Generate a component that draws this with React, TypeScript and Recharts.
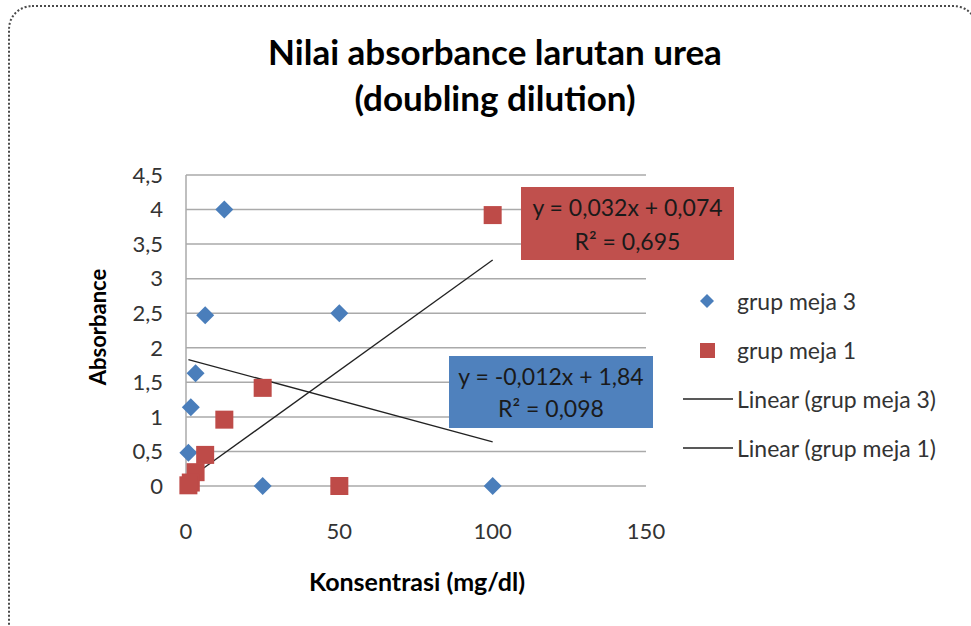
import React from 'react';
import { ScatterChart, Scatter, XAxis, YAxis, CartesianGrid } from 'recharts';

// konsentrasi (mg/dl) - doubling dilution
const konsentrasi = [100, 50, 25, 12.5, 6.25, 3.125, 1.5625, 0.78];
const absorbanceMeja3 = [0, 2.5, 0, 4, 2.47, 1.63, 1.14, 0.48];
const absorbanceMeja1 = [3.92, 0, 1.42, 0.96, 0.45, 0.2, 0.05, 0.01];

// garis trend (endpoint)
const trendMeja3 = [
  { x: 0.78, y: 1.83 },
  { x: 100, y: 0.64 },
];
const trendMeja1 = [
  { x: 0.78, y: 0.1 },
  { x: 100, y: 3.27 },
];

const xTicks = [0, 50, 100, 150];
const yTicks = [0, 0.5, 1, 1.5, 2, 2.5, 3, 3.5, 4, 4.5];

const dataMeja3 = konsentrasi.map((x, i) => ({ x, y: absorbanceMeja3[i] }));
const dataMeja1 = konsentrasi.map((x, i) => ({ x, y: absorbanceMeja1[i] }));

const BLUE = '#4A7EBB';
const RED = '#BE4B48';
const FONT = 'Lato, "Open Sans", sans-serif';

const Diamond = (props: any) => {
  const { cx, cy } = props;
  const r = 9;
  return <polygon points={`${cx},${cy - r} ${cx + r},${cy} ${cx},${cy + r} ${cx - r},${cy}`} fill={BLUE} />;
};

const Square = (props: any) => {
  const { cx, cy } = props;
  return <rect x={cx - 9} y={cy - 9} width={18} height={18} fill={RED} />;
};

const NoDot = () => <g />;

const fmt = (v: number) => String(v).replace('.', ',');

const App: React.FC = () => {
  return (
    <div style={{ position: 'absolute', left: 0, top: 0, width: 971, height: 626, overflow: 'hidden', background: '#fff', fontFamily: FONT }}>
      <div
        style={{
          position: 'absolute',
          left: 8,
          top: 5,
          width: 966,
          height: 640,
          border: '2px dotted #4a4a4a',
          borderRadius: 24,
        }}
      />
      <div style={{ position: 'absolute', left: 0, width: 990, top: 28, textAlign: 'center', fontWeight: 'bold', fontSize: 35, lineHeight: '46px', color: '#000' }}>
        Nilai absorbance larutan urea
        <br />
        (doubling dilution)
      </div>
      <ScatterChart
        width={971}
        height={626}
        margin={{ top: 175, right: 325, bottom: 100, left: 116 }}
        style={{ position: 'absolute', left: 0, top: 0 }}
      >
        <CartesianGrid horizontal vertical={false} stroke="#AAAAAA" strokeWidth={1.5} />
        <XAxis
          type="number"
          dataKey="x"
          domain={[0, 150]}
          ticks={xTicks}
          axisLine={false}
          tickLine={false}
          tickSize={6}
          tickMargin={31}
          height={40}
          tick={{ fill: '#333', fontSize: 22, fontFamily: FONT }}
        />
        <YAxis
          type="number"
          dataKey="y"
          domain={[0, 4.5]}
          ticks={yTicks}
          tickFormatter={fmt}
          axisLine={{ stroke: '#AAAAAA', strokeWidth: 1.5 }}
          tickLine={false}
          tickSize={6}
          tickMargin={17}
          width={70}
          tick={{ fill: '#333', fontSize: 22, fontFamily: FONT }}
        />
        <Scatter name="Linear (grup meja 3)" data={trendMeja3} line={{ stroke: '#222', strokeWidth: 1.3 }} shape={NoDot} isAnimationActive={false} />
        <Scatter name="Linear (grup meja 1)" data={trendMeja1} line={{ stroke: '#222', strokeWidth: 1.3 }} shape={NoDot} isAnimationActive={false} />
        <Scatter name="grup meja 3" data={dataMeja3} shape={Diamond} isAnimationActive={false} />
        <Scatter name="grup meja 1" data={dataMeja1} shape={Square} isAnimationActive={false} />
      </ScatterChart>

      {/* persamaan trend */}
      <div style={{ position: 'absolute', left: 521, top: 187, width: 213, height: 73, background: '#C0504D', color: '#1a1a1a', fontSize: 23, textAlign: 'center', lineHeight: '34px', paddingTop: 3, boxSizing: 'border-box' }}>
        y = 0,032x + 0,074
        <br />
        R² = 0,695
      </div>
      <div style={{ position: 'absolute', left: 449, top: 356, width: 204, height: 72, background: '#4F81BD', color: '#1a1a1a', fontSize: 23, textAlign: 'center', lineHeight: '32px', paddingTop: 4, boxSizing: 'border-box' }}>
        y = -0,012x + 1,84
        <br />
        R² = 0,098
      </div>

      {/* judul sumbu */}
      <div style={{ position: 'absolute', left: 0, width: 834, top: 566, textAlign: 'center', fontWeight: 'bold', fontSize: 25, color: '#000' }}>
        Konsentrasi (mg/dl)
      </div>
      <div style={{ position: 'absolute', left: 97, top: 327, transform: 'translate(-50%, -50%) rotate(-90deg)', whiteSpace: 'nowrap', fontWeight: 'bold', fontSize: 22, color: '#000' }}>
        Absorbance
      </div>

      {/* legenda */}
      <div style={{ position: 'absolute', left: 683, top: 276, fontSize: 23, color: '#333' }}>
        {[
          { label: 'grup meja 3', kind: 'diamond' },
          { label: 'grup meja 1', kind: 'square' },
          { label: 'Linear (grup meja 3)', kind: 'line' },
          { label: 'Linear (grup meja 1)', kind: 'line' },
        ].map((it) => (
          <div key={it.label} style={{ display: 'flex', alignItems: 'center', height: 49 }}>
            <svg width={50} height={20} style={{ marginRight: 4 }}>
              {it.kind === 'diamond' && <polygon points="24,3 31,10 24,17 17,10" fill={BLUE} />}
              {it.kind === 'square' && <rect x={17} y={3} width={15} height={15} fill={RED} />}
              {it.kind === 'line' && <line x1={0} y1={10} x2={50} y2={10} stroke="#222" strokeWidth={1.5} />}
            </svg>
            <span>{it.label}</span>
          </div>
        ))}
      </div>
    </div>
  );
};

export default App;
